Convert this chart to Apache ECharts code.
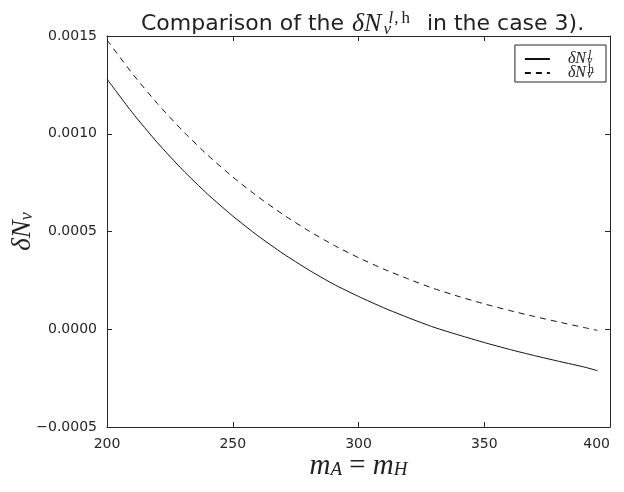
<!DOCTYPE html>
<html><head><meta charset="utf-8">
<script src="https://cdn.jsdelivr.net/npm/echarts@6/dist/echarts.min.js"></script>
<style>html,body{margin:0;padding:0;background:#fff}#c{width:624px;height:492px}</style>
</head><body><div id="c"></div>
<script>
// data
const massValues = [200, 210, 220, 230, 240, 250, 260, 270, 280, 290, 300, 310, 320, 330, 340, 350, 360, 370, 380, 390, 395];
const deltaNl = [0.001280, 0.001109, 0.000955, 0.000816, 0.000691, 0.000579, 0.000478, 0.000387, 0.000305, 0.000231, 0.000168, 0.000110, 0.000058, 0.000010, -0.000030, -0.000068, -0.000103, -0.000135, -0.000165, -0.000194, -0.000212];
const deltaNh = [0.001480, 0.001309, 0.001155, 0.001016, 0.000891, 0.000779, 0.000678, 0.000587, 0.000505, 0.000431, 0.000366, 0.000308, 0.000256, 0.000208, 0.000167, 0.000130, 0.000096, 0.000065, 0.000036, 0.000008, -0.000006];
const xTicks = [200, 250, 300, 350, 400];
const yTicks = [-0.0005, 0.0, 0.0005, 0.0010, 0.0015];

const AX = '#262626';
const TXT = '#222';
const SERIF = '"Liberation Serif", "DejaVu Serif", serif';
const SANS = '"DejaVu Sans", sans-serif';

const chart = echarts.init(document.getElementById('c'), null, {renderer: 'canvas'});

function fmtY(v) {
  const s = Math.abs(v).toFixed(4);
  return (v < -1e-12 ? '\u2212' : '') + s;
}

const xMin = xTicks[0], xMax = xTicks[xTicks.length - 1], xInt = xTicks[1] - xTicks[0];
const yMin = yTicks[0], yMax = yTicks[yTicks.length - 1], yInt = yTicks[1] - yTicks[0];

const tickCommon = {inside: true, length: 5, lineStyle: {color: AX, width: 1}};
const lineCommon = {show: true, onZero: false, lineStyle: {color: AX, width: 1}};

// script helpers: shift small text up (sup) or down (sub) via asymmetric padding
function supStyle(size, lh, shift, italic, extra) {
  return Object.assign({fontFamily: SERIF, fontStyle: italic ? 'italic' : 'normal', fontWeight: 'normal',
    fontSize: size, color: TXT, lineHeight: lh, padding: [0, 0, 2 * shift, 0]}, extra || {});
}
function subStyle(size, lh, shift, italic, extra) {
  return Object.assign({fontFamily: SERIF, fontStyle: italic ? 'italic' : 'normal', fontWeight: 'normal',
    fontSize: size, color: TXT, lineHeight: lh, padding: [2 * shift, 0, 0, 0]}, extra || {});
}

const option = {
  animation: false,
  backgroundColor: '#fff',
  title: {
    text: '{t|Comparison of the }{m|δN}{sub|ν}{supi|l}{sup|,}{sup2|h}{t|  in the case 3).}',
    left: 141, top: 9, padding: 0,
    textStyle: {
      fontWeight: 'normal',
      rich: {
        t: {fontFamily: SANS, fontSize: 22, fontWeight: 'normal', color: TXT, lineHeight: 30},
        m: {fontFamily: SERIF, fontStyle: 'italic', fontWeight: 'normal', fontSize: 26, color: TXT, lineHeight: 30, padding: [0, 2, 0, 1]},
        sub: subStyle(17, 30, 6, true, {width: 1}),
        supi: supStyle(17, 30, 5, true, {padding: [0, 0, 10, 4]}),
        sup: supStyle(17, 30, 5, false, {padding: [0, 3, 10, 1]}),
        sup2: supStyle(17, 30, 5, false, {padding: [0, 3, 10, 0]})
      }
    }
  },
  legend: {
    data: ['l', 'h'],
    orient: 'vertical',
    right: 18, top: 45,
    backgroundColor: '#fff',
    borderColor: AX, borderWidth: 1, borderRadius: 0,
    padding: [5, 12, 0, 9],
    itemWidth: 25, itemHeight: 14, itemGap: -4,
    itemStyle: {opacity: 0},
    formatter: function (name) {
      return name === 'l'
        ? '{m|δN}{sub|ν}{supi|l}'
        : '{m|δN}{sub|ν}{sup|h}';
    },
    textStyle: {
      rich: {
        m: {fontFamily: SERIF, fontStyle: 'italic', fontSize: 16, color: TXT, lineHeight: 14, padding: [0, 1, 0, 13]},
        sub: subStyle(12, 14, 2, true, {width: 1}),
        supi: supStyle(12, 14, 3, true),
        sup: supStyle(12, 14, 3, false)
      }
    }
  },
  grid: {left: 107, right: 14, top: 36, bottom: 65, containLabel: false, outerBoundsMode: 'none'},
  xAxis: [
    {
      type: 'value', position: 'bottom', min: xMin, max: xMax, interval: xInt,
      axisLine: lineCommon, axisTick: tickCommon, splitLine: {show: false},
      axisLabel: {color: AX, fontSize: 14, fontFamily: SANS, margin: 10, alignMaxLabel: 'right'},
      name: '{i|m}{s|A}{n| = }{i|m}{s|H}', nameLocation: 'middle', nameGap: 23, nameMoveOverlap: false,
      nameTextStyle: {
        rich: {
          i: {fontFamily: SERIF, fontStyle: 'italic', fontSize: 29, color: TXT, lineHeight: 32},
          s: subStyle(19, 32, 4, true),
          n: {fontFamily: SERIF, fontSize: 29, color: TXT, lineHeight: 32}
        }
      }
    },
    {
      type: 'value', position: 'top', min: xMin, max: xMax, interval: xInt,
      axisLine: lineCommon, axisTick: tickCommon, splitLine: {show: false},
      axisLabel: {show: false}
    }
  ],
  yAxis: [
    {
      type: 'value', position: 'left', min: yMin, max: yMax, interval: yInt,
      axisLine: lineCommon, axisTick: tickCommon, splitLine: {show: false},
      axisLabel: {color: AX, fontSize: 14, fontFamily: SANS, margin: 10, formatter: fmtY},
      name: '{m|δN}{s|ν}', nameLocation: 'middle', nameGap: 68, nameMoveOverlap: false,
      nameTextStyle: {
        rich: {
          m: {fontFamily: SERIF, fontStyle: 'italic', fontSize: 27, color: TXT, lineHeight: 32},
          s: subStyle(18, 32, 4, true)
        }
      }
    },
    {
      type: 'value', position: 'right', min: yMin, max: yMax, interval: yInt,
      axisLine: lineCommon, axisTick: tickCommon, splitLine: {show: false},
      axisLabel: {show: false}
    }
  ],
  series: [
    {
      name: 'l', type: 'line', xAxisIndex: 0, yAxisIndex: 0,
      data: massValues.map((m, i) => [m, deltaNl[i]]),
      symbol: 'none', smooth: 0.2,
      lineStyle: {color: '#111', width: 1, type: 'solid'},
      itemStyle: {color: '#111'}
    },
    {
      name: 'h', type: 'line', xAxisIndex: 0, yAxisIndex: 0,
      data: massValues.map((m, i) => [m, deltaNh[i]]),
      symbol: 'none', smooth: 0.2,
      lineStyle: {color: '#111', width: 1, type: [6, 5]},
      itemStyle: {color: '#111'}
    }
  ]
};
chart.setOption(option);
</script>
</body></html>
